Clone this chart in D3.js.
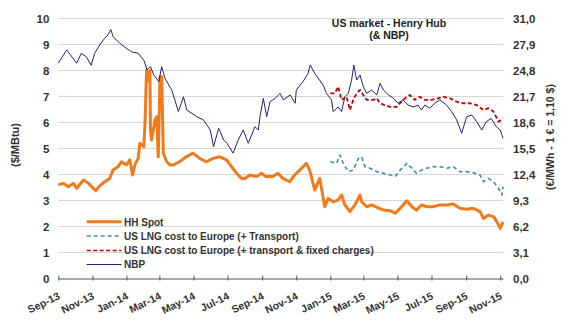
<!DOCTYPE html>
<html>
<head>
<meta charset="utf-8">
<script src="https://cdn.jsdelivr.net/npm/d3@7"></script>
<style>
  html, body { margin: 0; padding: 0; background: #fff; }
  svg { display: block; font-family: Arial, "Liberation Sans", sans-serif; }
</style>
</head>
<body>
<svg id="chart" width="562" height="326"></svg>
<script>
// ---------- DATA ----------
const chartTitle = ["US market - Henry Hub", "(& NBP)"];
const leftAxisTitle = "($/MBtu)";
const rightAxisTitle = "(€/MWh - 1 € = 1,10 $)";
const leftTicks = [0, 1, 2, 3, 4, 5, 6, 7, 8, 9, 10];
const rightTicks = ["0,0", "3,1", "6,2", "9,3", "12,4", "15,5", "18,6", "21,7", "24,8", "27,9", "31,0"];
const seriesNames = ["HH Spot", "US LNG cost to Europe (+ Transport)", "US LNG cost to Europe (+ transport & fixed charges)", "NBP"];

const hhSpot = [
  ["2013-09-01",3.60],["2013-09-10",3.66],["2013-09-19",3.53],["2013-09-28",3.66],["2013-10-04",3.47],
  ["2013-10-16",3.79],["2013-10-25",3.66],["2013-10-31",3.53],["2013-11-07",3.38],["2013-11-14",3.56],
  ["2013-11-23",3.72],["2013-12-02",3.85],["2013-12-08",4.17],["2013-12-17",4.30],["2013-12-23",4.49],
  ["2014-01-01",4.37],["2014-01-07",4.56],["2014-01-12",3.98],["2014-01-16",4.37],["2014-01-22",4.62],
  ["2014-01-25",5.20],["2014-02-01",5.07],["2014-02-03",5.84],["2014-02-06",8.02],["2014-02-09",7.60],
  ["2014-02-12",8.00],["2014-02-13",5.71],["2014-02-15",5.33],["2014-02-21",6.10],["2014-02-24",6.22],
  ["2014-02-27",4.68],["2014-03-02",7.76],["2014-03-05",7.76],["2014-03-08",4.82],["2014-03-14",4.49],
  ["2014-03-20",4.37],["2014-03-26",4.37],["2014-04-06",4.49],["2014-04-18",4.68],["2014-04-30",4.82],
  ["2014-05-12",4.62],["2014-05-24",4.49],["2014-06-05",4.62],["2014-06-17",4.68],["2014-06-29",4.56],
  ["2014-07-08",4.30],["2014-07-17",4.05],["2014-07-26",3.85],["2014-08-01",3.85],["2014-08-10",3.98],
  ["2014-08-22",3.92],["2014-08-31",4.05],["2014-09-08",3.92],["2014-09-20",3.92],["2014-09-29",4.05],
  ["2014-10-08",3.85],["2014-10-20",3.72],["2014-10-29",3.98],["2014-11-07",4.17],["2014-11-13",4.30],
  ["2014-11-19",4.43],["2014-11-25",4.17],["2014-12-04",3.40],["2014-12-13",3.85],["2014-12-22",2.76],
  ["2014-12-28",3.08],["2015-01-06",2.95],["2015-01-15",3.02],["2015-01-21",3.21],["2015-01-27",2.83],
  ["2015-02-05",2.57],["2015-02-14",2.83],["2015-02-23",3.21],["2015-02-26",2.95],["2015-03-07",2.76],
  ["2015-03-16",2.83],["2015-03-25",2.74],["2015-04-06",2.63],["2015-04-18",2.61],["2015-04-27",2.51],
  ["2015-05-06",2.70],["2015-05-18",2.99],["2015-05-27",2.76],["2015-06-04",2.63],["2015-06-13",2.83],
  ["2015-06-22",2.76],["2015-07-04",2.76],["2015-07-16",2.83],["2015-07-28",2.83],["2015-08-09",2.87],
  ["2015-08-21",2.70],["2015-09-02",2.66],["2015-09-14",2.70],["2015-09-26",2.57],["2015-10-02",2.31],
  ["2015-10-11",2.44],["2015-10-20",2.38],["2015-10-26",2.18],["2015-11-01",1.93],["2015-11-06",2.18]
];

const lngTransport = [
  ["2015-01-01",4.49],["2015-01-12",4.43],["2015-01-18",4.75],["2015-01-24",4.43],["2015-02-02",4.11],
  ["2015-02-11",4.17],["2015-02-20",4.62],["2015-02-26",4.68],["2015-03-04",4.30],["2015-03-13",4.24],
  ["2015-03-25",4.11],["2015-04-06",4.05],["2015-04-18",3.98],["2015-04-27",3.92],["2015-05-06",4.17],
  ["2015-05-18",4.43],["2015-05-27",4.24],["2015-06-04",4.05],["2015-06-13",4.17],["2015-06-22",4.24],
  ["2015-07-04",4.30],["2015-07-16",4.30],["2015-07-28",4.24],["2015-08-09",4.30],["2015-08-21",4.11],
  ["2015-09-02",4.11],["2015-09-14",4.07],["2015-09-26",3.98],["2015-10-02",3.72],["2015-10-11",3.85],
  ["2015-10-20",3.72],["2015-10-29",3.47],["2015-11-04",3.21],["2015-11-06",3.53]
];

const lngFixed = [
  ["2015-01-01",7.12],["2015-01-09",7.12],["2015-01-15",7.38],["2015-01-21",6.87],["2015-01-30",6.99],
  ["2015-02-05",6.48],["2015-02-11",6.87],["2015-02-17",7.12],["2015-02-23",7.25],["2015-03-01",7.06],
  ["2015-03-07",6.87],["2015-03-19",6.87],["2015-03-25",6.93],["2015-03-31",6.74],["2015-04-08",6.67],
  ["2015-04-18",6.60],["2015-04-30",6.60],["2015-05-08",6.80],["2015-05-18",6.99],["2015-05-23",7.06],
  ["2015-06-01",6.87],["2015-06-10",6.99],["2015-06-19",6.87],["2015-07-01",6.87],["2015-07-13",6.93],
  ["2015-07-22",6.99],["2015-08-03",6.93],["2015-08-15",6.80],["2015-08-27",6.74],["2015-09-08",6.74],
  ["2015-09-20",6.67],["2015-10-02",6.48],["2015-10-11",6.55],["2015-10-20",6.42],["2015-10-29",6.03],
  ["2015-11-06",6.16]
];

const nbp = [
  ["2013-09-01",8.28],["2013-09-16",8.79],["2013-10-04",8.28],["2013-10-12",8.66],["2013-10-21",8.53],
  ["2013-10-30",8.20],["2013-11-05",8.66],["2013-11-14",8.98],["2013-11-23",9.24],["2013-11-29",9.37],
  ["2013-12-04",9.58],["2013-12-08",9.30],["2013-12-20",9.05],["2014-01-01",8.85],["2014-01-10",8.72],
  ["2014-01-22",8.66],["2014-02-01",8.40],["2014-02-07",8.02],["2014-02-13",8.15],["2014-02-19",7.83],
  ["2014-02-28",7.57],["2014-03-05",8.15],["2014-03-11",7.70],["2014-03-23",7.25],["2014-04-04",6.42],
  ["2014-04-13",6.99],["2014-04-19",6.48],["2014-05-07",6.22],["2014-05-19",6.10],["2014-05-31",5.71],
  ["2014-06-06",5.07],["2014-06-15",5.78],["2014-06-24",5.33],["2014-06-30",5.20],["2014-07-11",4.82],
  ["2014-07-20",5.33],["2014-07-29",5.71],["2014-08-07",5.20],["2014-08-19",5.84],["2014-08-25",5.71],
  ["2014-08-28",6.22],["2014-09-03",6.93],["2014-09-09",6.22],["2014-09-15",6.80],["2014-09-24",6.93],
  ["2014-10-03",7.12],["2014-10-09",6.87],["2014-10-21",7.06],["2014-10-30",6.74],["2014-11-01",7.25],
  ["2014-11-13",7.57],["2014-11-22",7.89],["2014-11-26",8.21],["2014-12-04",7.89],["2014-12-19",7.44],
  ["2014-12-25",7.12],["2015-01-03",6.87],["2015-01-06",6.42],["2015-01-15",6.60],["2015-01-21",6.42],
  ["2015-01-27",6.99],["2015-02-02",7.12],["2015-02-08",7.63],["2015-02-12",8.21],["2015-02-17",7.63],
  ["2015-02-23",7.83],["2015-03-01",7.38],["2015-03-07",7.12],["2015-03-16",7.25],["2015-03-25",7.06],
  ["2015-03-31",7.51],["2015-04-06",7.25],["2015-04-15",7.06],["2015-04-24",6.93],["2015-05-02",6.74],
  ["2015-05-11",6.87],["2015-05-20",6.67],["2015-05-29",6.60],["2015-06-07",6.67],["2015-06-13",6.48],
  ["2015-06-19",6.67],["2015-06-28",6.55],["2015-07-07",6.74],["2015-07-16",6.87],["2015-07-28",6.67],
  ["2015-08-06",6.42],["2015-08-15",6.10],["2015-08-24",5.59],["2015-09-02",6.22],["2015-09-11",6.29],
  ["2015-09-20",6.03],["2015-09-29",5.71],["2015-10-07",6.03],["2015-10-16",6.16],["2015-10-25",5.84],
  ["2015-11-01",5.71],["2015-11-06",5.39]
];

// ---------- CHART ----------
const parse = d3.utcParse("%Y-%m-%d");
const svg = d3.select("#chart");
const plot = { left: 58.3, right: 503, top: 18.5, bottom: 278.5 };

const x = d3.scaleUtc()
  .domain([parse("2013-09-01"), parse("2015-11-06")])
  .range([plot.left, plot.right]);
const y = d3.scaleLinear().domain([0, 10]).range([plot.bottom, plot.top]);
const yR = d3.scalePoint().domain(rightTicks).range([plot.bottom, plot.top]);

svg.append("rect").attr("width", 562).attr("height", 326).attr("fill", "#fff");

// gridlines
svg.append("g").selectAll("line").data(leftTicks.filter(d => d > 0)).join("line")
  .attr("x1", plot.left).attr("x2", plot.right)
  .attr("y1", d => y(d)).attr("y2", d => y(d))
  .attr("stroke", "#d6d6d6").attr("stroke-width", 1);

// left axis labels
const leftAxis = d3.axisLeft(y).tickValues(leftTicks).tickSize(0).tickPadding(9);
const gL = svg.append("g").attr("transform", `translate(${plot.left},0)`).call(leftAxis);
gL.select(".domain").remove();
gL.selectAll("text").attr("font-size", 11.5).attr("font-weight", "bold").attr("fill", "#333")
  .attr("font-family", "Arial, 'Liberation Sans', sans-serif");

// right axis labels
const rightAxis = d3.axisRight(yR).tickSize(0).tickPadding(10);
const gR = svg.append("g").attr("transform", `translate(${plot.right},0)`).call(rightAxis);
gR.select(".domain").remove();
gR.selectAll("text").attr("font-size", 11.5).attr("font-weight", "bold").attr("fill", "#333")
  .attr("font-family", "Arial, 'Liberation Sans', sans-serif");

// bottom axis
const xAxis = d3.axisBottom(x).ticks(d3.utcMonth.every(2)).tickFormat(d3.utcFormat("%b-%y"))
  .tickSizeInner(3).tickSizeOuter(0);
const gB = svg.append("g").attr("transform", `translate(0,${plot.bottom})`).call(xAxis);
gB.select(".domain").attr("stroke", "#555").attr("stroke-width", 1.2);
gB.selectAll(".tick line").attr("stroke", "#555").attr("y1", -3).attr("y2", 2);
gB.selectAll("text")
  .attr("font-size", 10.5).attr("font-weight", "bold").attr("fill", "#333")
  .attr("font-family", "Arial, 'Liberation Sans', sans-serif")
  .attr("text-anchor", "end").attr("dy", 0).attr("y", 0)
  .attr("transform", "translate(2,20) rotate(-26)");

// series lines
const line = d3.line().x(d => x(parse(d[0]))).y(d => y(d[1]));
const styles = [
  { data: hhSpot, color: "#f07a1c", width: 3, dash: null },
  { data: lngTransport, color: "#3f8ea5", width: 1.6, dash: "4,3" },
  { data: lngFixed, color: "#c00000", width: 1.8, dash: "4,2.5" },
  { data: nbp, color: "#232372", width: 1, dash: null }
];
svg.append("g").selectAll("path").data(styles).join("path")
  .attr("d", s => line(s.data))
  .attr("fill", "none")
  .attr("stroke", s => s.color)
  .attr("stroke-width", s => s.width)
  .attr("stroke-dasharray", s => s.dash)
  .attr("stroke-linejoin", "round");

// legend
const legendRows = [221.7, 236, 250.5, 264.5];
const lg = svg.append("g");
styles.forEach((s, i) => {
  lg.append("line").attr("x1", 86.7).attr("x2", 121.5)
    .attr("y1", legendRows[i]).attr("y2", legendRows[i])
    .attr("stroke", s.color).attr("stroke-width", i === 0 ? 3 : (i === 3 ? 1.2 : 1.6))
    .attr("stroke-dasharray", s.dash);
  lg.append("text").attr("x", 124).attr("y", legendRows[i] + 3.8)
    .attr("font-size", 10).attr("font-weight", "bold").attr("fill", "#333")
    .text(seriesNames[i]);
});

// titles
svg.append("text").attr("x", 389).attr("y", 26.5).attr("text-anchor", "middle")
  .attr("font-size", 10.5).attr("font-weight", "bold").attr("fill", "#222").text(chartTitle[0]);
svg.append("text").attr("x", 389).attr("y", 38.5).attr("text-anchor", "middle")
  .attr("font-size", 10.5).attr("font-weight", "bold").attr("fill", "#222").text(chartTitle[1]);

svg.append("text").attr("transform", "translate(19,145) rotate(-90)").attr("text-anchor", "middle")
  .attr("font-size", 11).attr("font-weight", "bold").attr("fill", "#333").text(leftAxisTitle);
svg.append("text").attr("transform", "translate(554,137) rotate(-90)").attr("text-anchor", "middle")
  .attr("font-size", 10.5).attr("font-weight", "bold").attr("fill", "#333").text(rightAxisTitle);
</script>
</body>
</html>
